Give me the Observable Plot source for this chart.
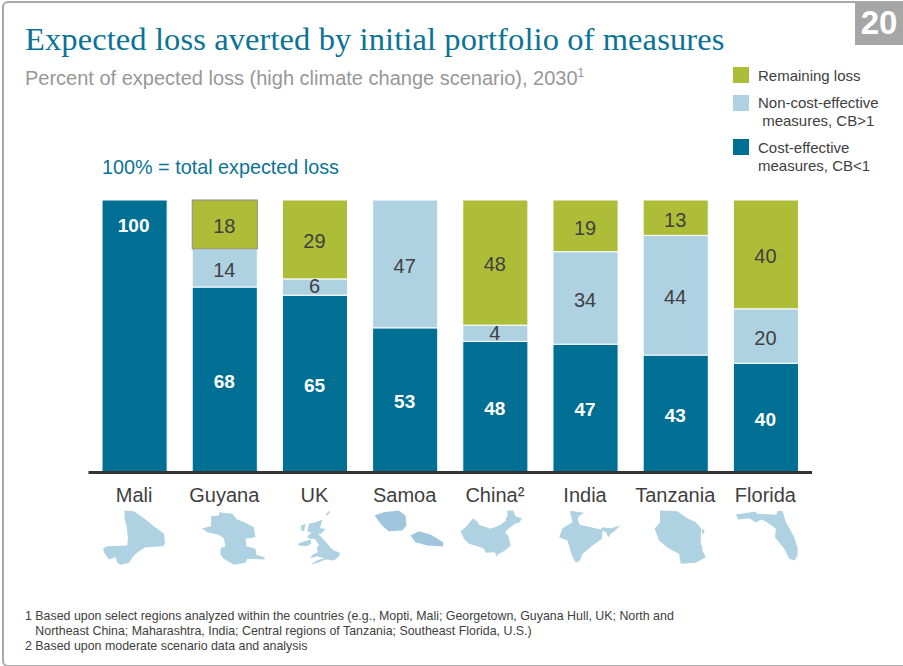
<!DOCTYPE html>
<html><head><meta charset="utf-8">
<script src="https://cdn.jsdelivr.net/npm/d3@7"></script>
<script src="https://cdn.jsdelivr.net/npm/@observablehq/plot@0.6"></script>
<style>
html,body{margin:0;padding:0;background:#fff;}
#root{position:relative;width:903px;height:666px;overflow:hidden;font-family:"Liberation Sans",Arial,sans-serif;background:#fff;}
#frame{position:absolute;left:2px;top:1px;width:930px;height:662px;border:2px solid #a8a8a8;border-radius:6px;box-sizing:content-box;}
#badge{position:absolute;left:855px;top:2px;width:48px;height:43px;background:#a6a6a6;color:#fff;font-weight:bold;font-size:33px;line-height:42px;text-align:center;}
#title{position:absolute;left:25px;top:21px;font-family:"Liberation Serif",serif;font-size:32.5px;line-height:36px;color:#0a7396;white-space:nowrap;letter-spacing:.1px;}
#subtitle{position:absolute;left:25px;top:67px;font-size:20px;line-height:22px;color:#979797;white-space:nowrap;}
#subtitle sup{font-size:12px;line-height:0;}
#total{position:absolute;left:102px;top:156px;font-size:19.8px;line-height:22px;color:#0a7396;white-space:nowrap;}
.sw{position:absolute;left:733px;width:16px;height:16px;}
.lg{position:absolute;left:758px;font-size:15px;line-height:18px;color:#404040;white-space:pre;}
#note{position:absolute;left:25px;top:609px;font-size:12.4px;line-height:15px;color:#404040;white-space:pre;}
#chart{position:absolute;left:0;top:190px;}
#maps{position:absolute;left:0;top:505px;}
svg{display:block;background:transparent;}
</style></head>
<body><div id="root">
<div id="frame"></div>
<div id="badge">20</div>
<div id="title">Expected loss averted by initial portfolio of measures</div>
<div id="subtitle">Percent of expected loss (high climate change scenario), 2030<sup>1</sup></div>
<div id="total">100% = total expected loss</div>
<div class="sw" style="top:67px;background:#aebd37"></div>
<div class="lg" style="top:67px">Remaining loss</div>
<div class="sw" style="top:95px;background:#afd2e3"></div>
<div class="lg" style="top:94px">Non-cost-effective
 measures, CB&gt;1</div>
<div class="sw" style="top:139px;background:#006f94"></div>
<div class="lg" style="top:139px">Cost-effective
measures, CB&lt;1</div>
<div id="chart"></div>
<div id="maps"></div>
<div id="note">1 Based upon select regions analyzed within the countries (e.g., Mopti, Mali; Georgetown, Guyana Hull, UK; North and
   Northeast China; Maharashtra, India; Central regions of Tanzania; Southeast Florida, U.S.)
2 Based upon moderate scenario data and analysis</div>
</div>
<script>
const countries = ["Mali","Guyana","UK","Samoa","China²","India","Tanzania","Florida"];
// Segment heights as drawn in the picture (China's drawn heights differ from its printed labels)
const costEffective = [100,68,65,53,48,47,43,40];
const nonCostEffective = [null,14,6,47,6,34,44,20];
const remaining = [null,18,29,null,46,19,13,40];
// Printed labels
const costLabels = [100,68,65,53,48,47,43,40];
const nonCostLabels = [null,14,6,47,4,34,44,20];
const remainingLabels = [null,18,29,null,48,19,13,40];
const measures = ["Cost-effective","Non-cost-effective","Remaining"];
const colors = ["#006f94","#afd2e3","#aebd37"];
const maliLabelLevel = 90.8;

// Silhouettes, one list of outline points per region part
const mali = [[66,15],[94,17],[124,38],[154,62],[184,85],[187,112],[182,122],[129,125],[112,135],[94,150],[79,172],[54,178],[44,172],[39,155],[19,162],[4,140],[2,128],[14,122],[74,120],[76,100],[72,60],[66,40]];
const guyana = [[81,18],[88,22],[118,25],[133,42],[158,52],[183,65],[188,95],[158,100],[161,122],[188,130],[191,148],[215,155],[215,162],[163,160],[158,172],[123,178],[93,160],[83,148],[83,128],[98,122],[93,98],[78,88],[43,80],[28,68],[55,62],[55,32],[78,30]];
const britain = [[78,55],[98,50],[118,42],[111,68],[128,70],[115,85],[105,85],[128,108],[141,125],[153,135],[171,142],[168,152],[153,165],[128,162],[108,170],[83,178],[101,165],[123,158],[103,152],[83,158],[88,148],[105,140],[101,130],[108,118],[95,100],[78,100],[73,92],[85,82],[73,78]];
const ireland = [[45,115],[63,108],[83,102],[85,115],[71,122],[48,120]];
const shetland = [[128,28],[138,16],[141,20],[133,30]];
const hebrides = [[55,60],[68,55],[63,78],[53,72]];
const savaii = [[4,30],[32,20],[77,15],[97,30],[100,60],[87,75],[47,77],[27,60]];
const upolu = [[112,90],[137,77],[172,87],[210,110],[210,123],[162,120],[127,110]];
const china = [[-8,78],[12,60],[29,38],[42,48],[47,58],[82,70],[107,60],[125,48],[132,30],[132,15],[149,15],[157,32],[175,38],[169,50],[155,55],[137,68],[125,80],[135,92],[142,120],[125,135],[102,148],[99,155],[95,140],[67,142],[62,130],[42,122],[17,115],[2,100]];
const india = [[49,16],[92,22],[79,30],[72,40],[79,58],[142,72],[147,65],[172,68],[199,60],[185,75],[172,85],[165,95],[157,80],[147,75],[145,100],[117,120],[87,145],[79,165],[67,172],[55,150],[42,105],[17,95],[27,68],[57,50],[52,30]];
const tanzania = [[49,15],[101,17],[131,38],[156,50],[173,70],[171,85],[171,115],[176,125],[176,135],[186,155],[156,172],[111,175],[106,145],[76,130],[46,105],[33,70],[49,50]];
const zanzibar = [[175,72],[182,72],[181,85],[175,85]];
const florida = [[6,27],[66,18],[69,25],[126,28],[133,15],[146,17],[156,50],[181,95],[191,130],[191,150],[181,165],[166,160],[151,130],[131,105],[123,95],[126,70],[101,52],[83,42],[66,50],[46,38],[13,42]];

const parts = [["Mali",mali],["Guyana",guyana],["UK",britain],["UK",ireland],["UK",shetland],["UK",hebrides],["Samoa",savaii],["Samoa",upolu],["China²",china],["India",india],["Tanzania",tanzania],["Tanzania",zanzibar],["Florida",florida]];

const rows = [];
countries.forEach((country,i)=>{
  [[costEffective,costLabels],[nonCostEffective,nonCostLabels],[remaining,remainingLabels]].forEach(([series,labels],j)=>{
    if(series[i]!=null) rows.push({country,measure:measures[j],value:series[i],label:labels[i]});
  });
});
const isOutlined = d => d.country==="Guyana" && d.measure==="Remaining";
const isCost = d => d.measure==="Cost-effective";
const isSmall = d => d.label<=6;

const xBand = {domain:countries,paddingInner:0.278,paddingOuter:0.15,align:0.5,round:false};
const stackOpts = {x:"country",y:"value",z:"measure"};

const chart = Plot.plot({
  width:903,height:320,marginLeft:88.5,marginRight:91,marginTop:10,marginBottom:38,
  style:{fontFamily:"'Liberation Sans',Arial,sans-serif",background:"transparent"},
  x:{...xBand,label:null},
  y:{domain:[0,100],axis:null},
  color:{domain:measures,range:colors},
  marks:[
    Plot.barY(rows,Plot.stackY({...stackOpts,fill:"measure",
      stroke:{value:d=>isOutlined(d)?"#8e8e8e":"#ffffff",scale:null},strokeWidth:1})),
    Plot.text(rows,Plot.stackY({...stackOpts,text:d=>!isCost(d)&&!isSmall(d)?d.label:null,fill:"#404040",fontSize:20,dy:2,dx:-1})),
    Plot.text(rows,Plot.stackY({...stackOpts,text:d=>!isCost(d)&&isSmall(d)?d.label:null,fill:"#404040",fontSize:20,dy:-0.5,dx:-1})),
    Plot.text(rows,Plot.stackY({...stackOpts,text:d=>isCost(d)&&d.country!=="Mali"?d.label:null,fill:"#fff",fontWeight:"bold",fontSize:19,dy:1.5,dx:-1})),
    Plot.text(rows.filter(d=>d.country==="Mali"),{x:"country",y:()=>maliLabelLevel,text:"label",fill:"#fff",fontWeight:"bold",fontSize:19,dx:-1.5}),
    Plot.axisX({tickSize:0,tickPadding:15,fontSize:20,fill:"#404040",label:null,dx:-1}),
    Plot.ruleY([0],{stroke:"#333333",strokeWidth:3})
  ]
});
document.getElementById("chart").append(chart);

const outline = parts.flatMap(([country,pts],p)=>pts.map(([x,y])=>({country,part:p,x,y})));
const maps = Plot.plot({
  width:903,height:70,marginLeft:88.5,marginRight:91,marginTop:0,marginBottom:0,
  style:{background:"transparent"},
  fx:{...xBand,axis:null,label:null},
  x:{domain:[0,195],axis:null},
  y:{domain:[210,0],axis:null},
  marks:[
    Plot.line(outline,{filter:d=>d.country!=="Samoa",x:"x",y:"y",z:"part",fx:"country",fill:"#afd2e3",stroke:"none"}),
    Plot.line(outline,{filter:d=>d.country==="Samoa",x:"x",y:"y",z:"part",fx:"country",fill:"#9fc6dc",stroke:"none"})
  ]
});
document.getElementById("maps").append(maps);
</script>
</body></html>
